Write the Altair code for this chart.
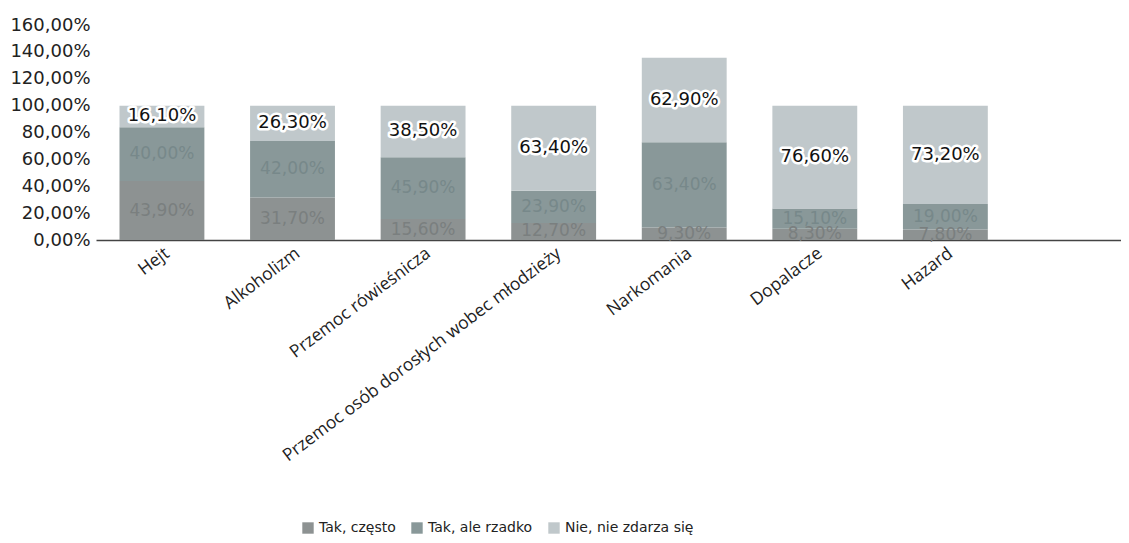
import altair as alt
import pandas as pd

categories = ["Hejt", "Alkoholizm", "Przemoc rówieśnicza",
              "Przemoc osób dorosłych wobec młodzieży", "Narkomania",
              "Dopalacze", "Hazard"]
series = ["Tak, często", "Tak, ale rzadko", "Nie, nie zdarza się"]
tak_czesto = [43.90, 31.70, 15.60, 12.70, 9.30, 8.30, 7.80]
tak_rzadko = [40.00, 42.00, 45.90, 23.90, 63.40, 15.10, 19.00]
nie = [16.10, 26.30, 38.50, 63.40, 62.90, 76.60, 73.20]

rows = []
for i, c in enumerate(categories):
    for s_i, (s, vals) in enumerate(zip(series, [tak_czesto, tak_rzadko, nie])):
        v = vals[i]
        rows.append({"kat": c, "seria": s, "ord": s_i, "v": v,
                     "lab": f"{v:.2f}".replace(".", ",") + "%"})
df = pd.DataFrame(rows)

colors = ["#8d9292", "#899899", "#c0c8cb"]
text_colors = ["#7a7f7f", "#77888a", "#111111"]

x_axis = alt.Axis(title=None, labelAngle=-37, labelFont="Open Sans",
                  labelFontSize=17.5, labelColor="#222222", ticks=False,
                  domainColor="#444444", domainWidth=1.5, labelPadding=4,
                  labelLimit=500, grid=False)
y_axis = alt.Axis(title=None, values=list(range(0, 161, 20)), grid=False,
                  domain=False, ticks=False, labelFont="DejaVu Sans",
                  labelFontSize=18, labelColor="#222222", labelPadding=6,
                  labelOverlap=False,
                  labelExpr="replace(format(datum.value, '.2f'), '.', ',') + '%'")
x_scale = alt.Scale(paddingInner=0.35, paddingOuter=0.6, align=0.15)
y_scale = alt.Scale(domain=[0, 160], nice=False)

base = alt.Chart(df)

bars = base.mark_bar().encode(
    x=alt.X("kat:N", sort=categories, scale=x_scale, axis=x_axis),
    y=alt.Y("v:Q", stack="zero", scale=y_scale, axis=y_axis),
    color=alt.Color("seria:N", sort=series,
                    scale=alt.Scale(domain=series, range=colors),
                    legend=alt.Legend(title=None, orient="none", direction="horizontal",
                                      legendX=205, legendY=496, symbolType="square",
                                      symbolSize=130, symbolStrokeWidth=0,
                                      labelFont="DejaVu Sans", labelFontSize=14,
                                      labelColor="#222222", columnPadding=14,
                                      symbolOpacity=1)),
    order=alt.Order("ord:Q"),
)

lab_base = base.transform_stack(
    stack="v", groupby=["kat"], as_=["y0", "y1"], sort=[alt.SortField("ord")]
).transform_calculate(mid="(datum.y0 + datum.y1) / 2")

xt = alt.X("kat:N", sort=categories, scale=x_scale, axis=x_axis)
yt = alt.Y("mid:Q", scale=y_scale, axis=y_axis)

low_labels = lab_base.transform_filter("datum.ord < 2").mark_text(
    font="DejaVu Sans", fontSize=17, baseline="middle"
).encode(
    x=xt, y=yt,
    color=alt.Color("ord:N", scale=alt.Scale(domain=[0, 1], range=text_colors[:2]), legend=None),
    text="lab:N",
)

halo = lab_base.transform_filter("datum.ord == 2").mark_text(
    font="DejaVu Sans", fontSize=18, baseline="middle", stroke="white",
    strokeWidth=5, strokeJoin="round", color="white"
).encode(x=xt, y=yt, text="lab:N")

top_labels = lab_base.transform_filter("datum.ord == 2").mark_text(
    font="DejaVu Sans", fontSize=18, baseline="middle", color="#111111"
).encode(x=xt, y=yt, text="lab:N")

chart = alt.layer(bars, low_labels, halo, top_labels).resolve_scale(
    color="independent"
).properties(
    width=1025, height=215,
    autosize=alt.AutoSizeParams(type="none"),
    padding={"left": 88, "top": 17, "right": 0, "bottom": 295},
).configure(background="white").configure_view(
    strokeWidth=0, stroke="transparent"
).configure_axis(grid=False)

chart.save("out.html", embed_options={"renderer": "svg", "actions": False})
